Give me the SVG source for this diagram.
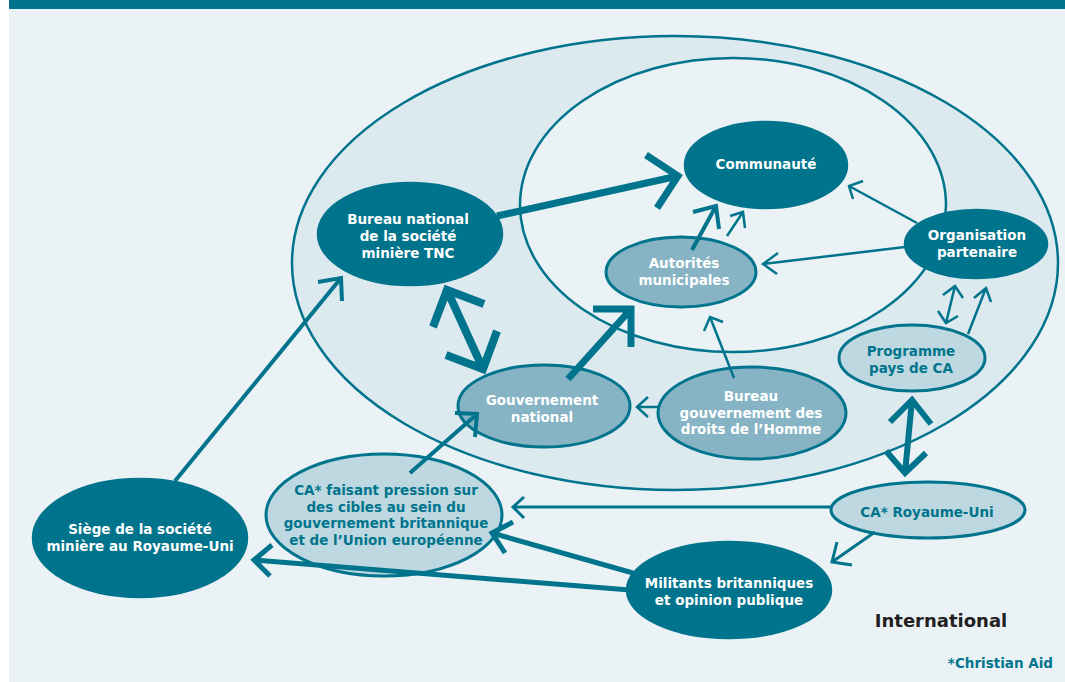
<svg xmlns="http://www.w3.org/2000/svg" width="1065" height="682" viewBox="0 0 1065 682">
<defs>
<style>
.dark{fill:#00748c;stroke:#00748c;stroke-width:2.5}
.mid{fill:#86b4c4;stroke:#00748c;stroke-width:3}
.light{fill:#bdd8e0;stroke:#00748c;stroke-width:3}
.zone{stroke:#00748c;stroke-width:2.5}
text{font-family:"DejaVu Sans","Liberation Sans",sans-serif;font-weight:700;font-size:13.5px;text-anchor:middle}
.w{fill:#ffffff}
.t{fill:#00748c}
.c path{fill:none;stroke:#00748c;stroke-linejoin:miter;stroke-linecap:butt}
</style>
</defs>
<rect x="0" y="0" width="1065" height="682" fill="#ffffff"/>
<rect x="9" y="9" width="1056" height="673" fill="#eaf2f6"/>
<rect x="9" y="0" width="1056" height="9" fill="#00748c"/>
<g id="zones">
<ellipse class="zone" cx="675" cy="263" rx="383" ry="227" fill="#dce9ef"/>
<ellipse class="zone" cx="733" cy="205" rx="213" ry="147" fill="#eaf2f6"/>
</g>
<g id="communaute">
<ellipse class="dark" cx="766" cy="165" rx="81" ry="43"/>
<text class="w" x="766" y="169">Communauté</text>
</g>
<g id="bureau-national">
<ellipse class="dark" cx="410" cy="234" rx="92" ry="51"/>
<text class="w" x="408" y="224">Bureau national</text>
<text class="w" x="408" y="241">de la société</text>
<text class="w" x="408" y="258">minière TNC</text>
</g>
<g id="autorites">
<ellipse class="mid" cx="681" cy="272" rx="75" ry="35"/>
<text class="w" x="684" y="268">Autorités</text>
<text class="w" x="684" y="285">municipales</text>
</g>
<g id="organisation">
<ellipse class="dark" cx="976" cy="244" rx="71" ry="34"/>
<text class="w" x="977" y="240">Organisation</text>
<text class="w" x="977" y="256.5">partenaire</text>
</g>
<g id="programme">
<ellipse class="light" cx="912" cy="358" rx="73" ry="33"/>
<text class="t" x="911" y="356">Programme</text>
<text class="t" x="911" y="372.5">pays de CA</text>
</g>
<g id="gouvernement">
<ellipse class="mid" cx="544" cy="406" rx="86" ry="41"/>
<text class="w" x="542" y="405">Gouvernement</text>
<text class="w" x="542" y="422">national</text>
</g>
<g id="bureau-droits">
<ellipse class="mid" cx="752" cy="413" rx="94" ry="46"/>
<text class="w" x="751" y="401">Bureau</text>
<text class="w" x="751" y="417.5">gouvernement des</text>
<text class="w" x="751" y="434">droits de l’Homme</text>
</g>
<g id="ca-pression">
<ellipse class="light" cx="384" cy="515" rx="118" ry="61"/>
<text class="t" x="386" y="495">CA* faisant pression sur</text>
<text class="t" x="386" y="511.5">des cibles au sein du</text>
<text class="t" x="386" y="528">gouvernement britannique</text>
<text class="t" x="386" y="544.5">et de l’Union européenne</text>
</g>
<g id="ca-royaume-uni">
<ellipse class="light" cx="928" cy="510" rx="97" ry="28"/>
<text class="t" x="927" y="517">CA* Royaume-Uni</text>
</g>
<g id="militants">
<ellipse class="dark" cx="729" cy="590" rx="102" ry="48"/>
<text class="w" x="729" y="588">Militants britanniques</text>
<text class="w" x="729" y="605">et opinion publique</text>
</g>
<g id="siege">
<ellipse class="dark" cx="140" cy="538" rx="107" ry="59"/>
<text class="w" x="140" y="534">Siège de la société</text>
<text class="w" x="140" y="551">minière au Royaume-Uni</text>
</g>
<g id="connectors" class="c">
<path d="M497,216 L678,176 M646,155 L678,176 L657,208" stroke-width="7"/>
<path d="M447,290 L483,369 M433,327 L447,290 L484,304 M497,331 L483,369 L446,355" stroke-width="8"/>
<path d="M568,379 L631,309 M593,309 L631,309 L631,347" stroke-width="7"/>
<path d="M692,250 L716,206 M693,212 L716,206 L719,229" stroke-width="4"/>
<path d="M727,236 L743,212 M730,216 L743,212 L745,228" stroke-width="2.5"/>
<path d="M917,223 L849,186 M863,181 L849,186 L853,199" stroke-width="2.5"/>
<path d="M905,247 L763,264 M778,253 L763,264 L777,274" stroke-width="2.5"/>
<path d="M955,286 L946,323 M943,295 L955,286 L963,298 M938,311 L946,323 L958,316" stroke-width="2.5"/>
<path d="M968,334 L986,288 M974,298 L986,288 L991,302" stroke-width="2.5"/>
<path d="M734,378 L710,317 M704,331 L710,317 L723,322" stroke-width="2.5"/>
<path d="M659,407 L637,407 M648,397 L637,407 L648,417" stroke-width="2.5"/>
<path d="M912,400 L905,473 M890,422 L912,400 L931,424 M886,451 L905,473 L926,453" stroke-width="6"/>
<path d="M831,507 L513,507 M524,497 L513,507 L524,518" stroke-width="3"/>
<path d="M875,532 L832,562 M837,542 L832,562 L852,565" stroke-width="3"/>
<path d="M633,573 L492,533 M513,522 L492,533 L505,553" stroke-width="5"/>
<path d="M630,590 L254,560 M272,545 L254,560 L270,576" stroke-width="5"/>
<path d="M410,473 L477,414 M455,413 L477,414 L475,437" stroke-width="4"/>
<path d="M175,481 L341,278 M318,282 L341,278 L342,301" stroke-width="4"/>
</g>
<text x="941" y="627" style="font-size:18px;fill:#231f20">International</text>
<text x="1053" y="668" style="font-size:13.5px;fill:#00748c;text-anchor:end">*Christian Aid</text>
</svg>
